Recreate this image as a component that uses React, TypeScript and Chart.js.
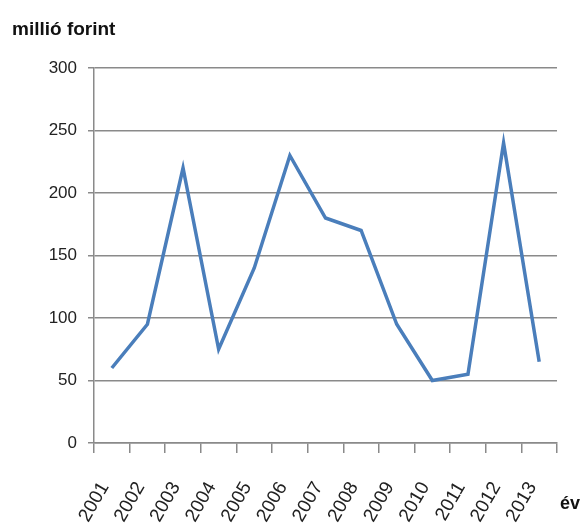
import React, { useEffect, useRef } from "react";
import { Chart, registerables } from "chart.js";

Chart.register(...registerables);

const years = ["2001", "2002", "2003", "2004", "2005", "2006", "2007", "2008", "2009", "2010", "2011", "2012", "2013"];
const values = [60, 95, 220, 75, 140, 230, 180, 170, 95, 50, 55, 240, 65];
const yTitle = "millió forint";
const xTitle = "év";
const yMin = 0;
const yMax = 300;
const yStep = 50;

const FONT = "'Liberation Sans', 'DejaVu Sans', sans-serif";

const textPlugin = {
  id: "axisTexts",
  afterDraw(chart: any) {
    const { ctx, chartArea } = chart;
    ctx.save();
    ctx.fillStyle = "#111";
    ctx.textAlign = "left";
    ctx.textBaseline = "alphabetic";
    ctx.font = `bold 19px ${FONT}`;
    ctx.fillText(yTitle, chartArea.left - 82, chartArea.top - 33);
    ctx.font = `bold 18px ${FONT}`;
    ctx.fillText(xTitle, chartArea.right + 3, chartArea.bottom + 66);
    ctx.restore();
  },
};

export default function App() {
  const ref = useRef<HTMLCanvasElement | null>(null);

  useEffect(() => {
    if (!ref.current) return;
    const chart = new Chart(ref.current, {
      type: "line",
      data: {
        labels: years,
        datasets: [
          {
            data: values,
            borderColor: "#4A7EBB",
            backgroundColor: "#4A7EBB",
            borderWidth: 3.5,
            pointRadius: 0,
            tension: 0,
          },
        ],
      },
      options: {
        animation: false,
        responsive: false,
        layout: { padding: { left: 0, right: 24, top: 68, bottom: 0 } },
        plugins: {
          legend: { display: false },
          title: { display: false },
          tooltip: { enabled: false },
        },
        scales: {
          x: {
            offset: true,
            afterFit: (s: any) => {
              s.height = 84;
              s.paddingLeft = 0;
              s.paddingRight = 0;
            },
            grid: {
              display: true,
              drawOnChartArea: false,
              drawTicks: true,
              tickLength: 10,
              color: "#8a8a8a",
              lineWidth: 1.5,
              offset: true,
            },
            border: { display: true, color: "#8a8a8a", width: 1.5 },
            ticks: {
              autoSkip: false,
              minRotation: 60,
              maxRotation: 60,
              padding: 25,
              labelOffset: -7,
              color: "#222",
              font: { family: FONT, size: 19 },
            },
          },
          y: {
            min: yMin,
            max: yMax,
            afterFit: (s: any) => {
              s.width = 94;
            },
            grid: {
              color: "#8a8a8a",
              lineWidth: 1.5,
              drawTicks: true,
              tickLength: 6,
            },
            border: { display: true, color: "#8a8a8a", width: 1.5 },
            ticks: {
              stepSize: yStep,
              padding: 11,
              color: "#222",
              font: { family: FONT, size: 17 },
            },
          },
        },
      },
      plugins: [textPlugin],
    });
    return () => chart.destroy();
  }, []);

  return (
    <div style={{ position: "fixed", left: 0, top: 0, width: 581, height: 527, background: "#fff" }}>
      <canvas ref={ref} width={581} height={527} style={{ display: "block" }} />
    </div>
  );
}
